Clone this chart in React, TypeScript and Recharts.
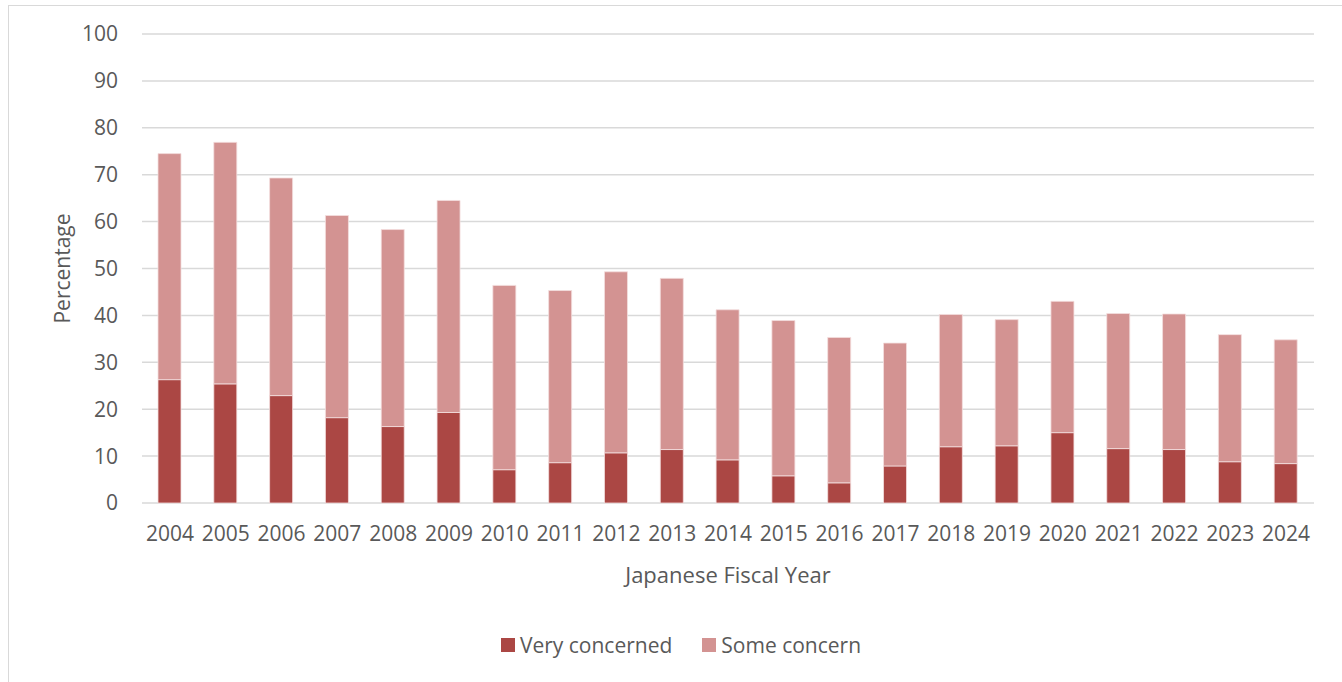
import { BarChart, Bar, XAxis, YAxis, CartesianGrid, Legend } from "recharts"

// fiscal years on the x axis
const years = [
  "2004", "2005", "2006", "2007", "2008", "2009", "2010", "2011", "2012", "2013", "2014",
  "2015", "2016", "2017", "2018", "2019", "2020", "2021", "2022", "2023", "2024",
]

// share of respondents, percent
const veryConcerned = [
  26.3, 25.4, 22.9, 18.2, 16.3, 19.3, 7.1, 8.6, 10.7, 11.4, 9.2,
  5.8, 4.3, 7.9, 12.0, 12.2, 15.0, 11.6, 11.4, 8.8, 8.4,
]
const someConcern = [
  48.2, 51.5, 46.4, 43.1, 42.0, 45.2, 39.3, 36.7, 38.6, 36.5, 32.0,
  33.1, 31.0, 26.2, 28.2, 26.9, 28.0, 28.8, 28.9, 27.1, 26.4,
]

const yTicks = [0, 10, 20, 30, 40, 50, 60, 70, 80, 90, 100]

const DARK = "#AB4744"
const LIGHT = "#D39392"
const TEXT = "#595959"
const FONT = "'Open Sans', sans-serif"

const legendItems = [
  { label: "Very concerned", color: DARK },
  { label: "Some concern", color: LIGHT },
]

const data = years.map((year, i) => ({
  year,
  very: veryConcerned[i],
  some: someConcern[i],
}))

function YTitle(props: any) {
  const { viewBox } = props
  const cx = 62
  const cy = viewBox.y + viewBox.height / 2
  return (
    <text
      x={cx}
      y={cy}
      transform={`rotate(-90 ${cx} ${cy})`}
      textAnchor="middle"
      dominantBaseline="central"
      fill={TEXT}
      fontSize={21}
      fontFamily={FONT}
    >
      Percentage
    </text>
  )
}

function XTitle(props: any) {
  const { viewBox } = props
  const cx = viewBox.x + viewBox.width / 2
  return (
    <text
      x={cx}
      y={574}
      textAnchor="middle"
      dominantBaseline="central"
      fill={TEXT}
      fontSize={22}
      fontFamily={FONT}
    >
      Japanese Fiscal Year
    </text>
  )
}

function LegendBox() {
  return (
    <div style={{ display: "flex", justifyContent: "center", alignItems: "center", gap: 30 }}>
      {legendItems.map((it) => (
        <div key={it.label} style={{ display: "flex", alignItems: "center", gap: 5 }}>
          <span style={{ width: 14, height: 14, background: it.color, display: "inline-block" }} />
          <span style={{ color: TEXT, fontSize: 21, fontFamily: FONT, lineHeight: "24px" }}>{it.label}</span>
        </div>
      ))}
    </div>
  )
}

export default function App() {
  return (
    <div style={{ position: "absolute", left: 0, top: 0, width: 1342, height: 682, background: "#fff", overflow: "hidden" }}>
      <div
        style={{
          position: "absolute",
          left: 8,
          top: 5,
          width: 1400,
          height: 700,
          border: "1px solid #d9d9d9",
        }}
      />
      <div style={{ position: "absolute", left: 0, top: 0 }}>
        <BarChart
          width={1342}
          height={682}
          data={data}
          margin={{ top: 34, right: 28, left: 0, bottom: 0 }}
          barSize={23}
        >
          <CartesianGrid vertical={false} stroke="#d9d9d9" strokeWidth={1.5} />
          <XAxis
            dataKey="year"
            axisLine={false}
            tickLine={false}
            tickSize={0}
            tickMargin={23}
            height={179}
            interval={0}
            tick={{ fill: TEXT, fontSize: 21, fontFamily: FONT }}
            label={<XTitle />}
          />
          <YAxis
            type="number"
            domain={[0, 100]}
            ticks={yTicks}
            width={142}
            axisLine={false}
            tickLine={false}
            tickSize={0}
            tickMargin={24}
            tick={{ fill: TEXT, fontSize: 21, fontFamily: FONT }}
            label={<YTitle />}
          />
          <Legend
            layout="horizontal"
            verticalAlign="middle"
            align="center"
            wrapperStyle={{ top: 633, left: 10, width: 1342, height: 24 }}
            content={<LegendBox />}
          />
          <Bar
            dataKey="very"
            name="Very concerned"
            stackId="a"
            fill={DARK}
            stroke="#f4dede"
            strokeWidth={0.8}
            isAnimationActive={false}
          />
          <Bar
            dataKey="some"
            name="Some concern"
            stackId="a"
            fill={LIGHT}
            stroke="#f4dede"
            strokeWidth={0.8}
            isAnimationActive={false}
          />
        </BarChart>
      </div>
    </div>
  )
}
